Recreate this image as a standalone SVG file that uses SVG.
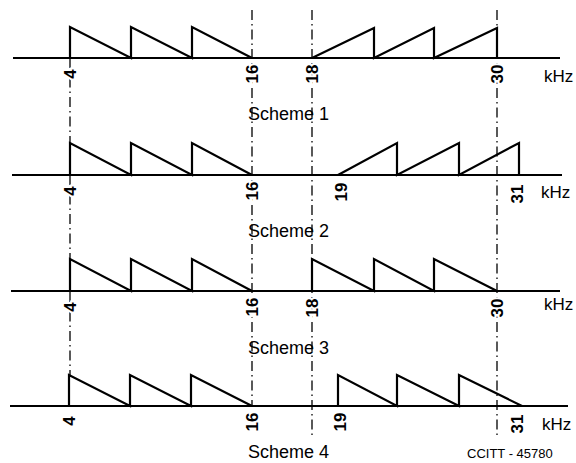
<svg xmlns="http://www.w3.org/2000/svg" width="576" height="463" viewBox="0 0 576 463">
<style>
.ax{stroke:#000;stroke-width:2;fill:none}
.sig{stroke:#000;stroke-width:2.2;fill:none;stroke-linejoin:miter}
.dd{stroke:#000;stroke-width:1.3;fill:none;stroke-dasharray:10 4 1.5 4}
.num{font-family:"Liberation Sans",Arial,sans-serif;font-size:17px;fill:#000;text-anchor:middle;stroke:#fff;stroke-width:4;paint-order:stroke;font-weight:bold}
.lab{font-family:"Liberation Sans",Arial,sans-serif;font-size:18px;fill:#000}
.khz{font-family:"Liberation Sans",Arial,sans-serif;font-size:17px;fill:#000}
.cc{font-family:"Liberation Sans",Arial,sans-serif;font-size:13px;fill:#000}
</style>
<rect width="576" height="463" fill="#fff"/>
<g id="connectors">
<line class="dd" x1="70" y1="58" x2="70" y2="375"/>
<line class="dd" x1="252" y1="10" x2="252" y2="406"/>
<line class="dd" x1="312" y1="10" x2="312" y2="437"/>
<line class="dd" x1="497" y1="10" x2="497" y2="437"/>
</g>
<g id="scheme1">
<line class="ax" x1="13" y1="58" x2="560" y2="58"/>
<path class="sig" d="M70,58 V27 L131,58 V27 L192,58 V27 L252,58"/>
<path class="sig" d="M312,58 L374,28 V58 L434,28 V58 L497,28 V58"/>
<text class="num" transform="translate(70,74) rotate(-90)" dy="0.35em">4</text>
<text class="num" transform="translate(252,74) rotate(-90)" dy="0.35em">16</text>
<text class="num" transform="translate(312,74) rotate(-90)" dy="0.35em">18</text>
<text class="num" transform="translate(497,74) rotate(-90)" dy="0.35em">30</text>
<text class="khz" x="544" y="82">kHz</text>
<text class="lab" x="248" y="120">Scheme 1</text>
</g>
<g id="scheme2">
<line class="ax" x1="12" y1="175" x2="562" y2="175"/>
<path class="sig" d="M70,175 V143 L131,175 V143 L192,175 V143 L252,175"/>
<path class="sig" d="M338,175 L397,143 V175 L459,143 V175 L519,143 V175"/>
<text class="num" transform="translate(70,191) rotate(-90)" dy="0.35em">4</text>
<text class="num" transform="translate(252,191) rotate(-90)" dy="0.35em">16</text>
<text class="num" transform="translate(341,192) rotate(-90)" dy="0.35em">19</text>
<text class="num" transform="translate(517,194) rotate(-90)" dy="0.35em">31</text>
<text class="khz" x="541" y="198">kHz</text>
<text class="lab" x="248" y="237">Scheme 2</text>
</g>
<g id="scheme3">
<line class="ax" x1="11" y1="291" x2="560" y2="291"/>
<path class="sig" d="M70,291 V259 L131,291 V259 L192,291 V259 L252,291"/>
<path class="sig" d="M312,291 V259 L374,291 V259 L434,291 V259 L497,291"/>
<text class="num" transform="translate(70,307) rotate(-90)" dy="0.35em">4</text>
<text class="num" transform="translate(252,307) rotate(-90)" dy="0.35em">16</text>
<text class="num" transform="translate(312,308) rotate(-90)" dy="0.35em">18</text>
<text class="num" transform="translate(497,308) rotate(-90)" dy="0.35em">30</text>
<text class="khz" x="544" y="310">kHz</text>
<text class="lab" x="248" y="354">Scheme 3</text>
</g>
<g id="scheme4">
<line class="ax" x1="10" y1="406" x2="568" y2="406"/>
<path class="sig" d="M69,406 V375 L130,406 V375 L191,406 V375 L252,406"/>
<path class="sig" d="M338,406 V375 L397,406 V375 L459,406 V375 L522,406"/>
<text class="num" transform="translate(69,421) rotate(-90)" dy="0.35em">4</text>
<text class="num" transform="translate(252,422) rotate(-90)" dy="0.35em">16</text>
<text class="num" transform="translate(340,422) rotate(-90)" dy="0.35em">19</text>
<text class="num" transform="translate(517,424) rotate(-90)" dy="0.35em">31</text>
<text class="khz" x="542" y="430">kHz</text>
<text class="lab" x="248" y="458">Scheme 4</text>
<text class="cc" x="467" y="458">CCITT - 45780</text>
</g>
</svg>
